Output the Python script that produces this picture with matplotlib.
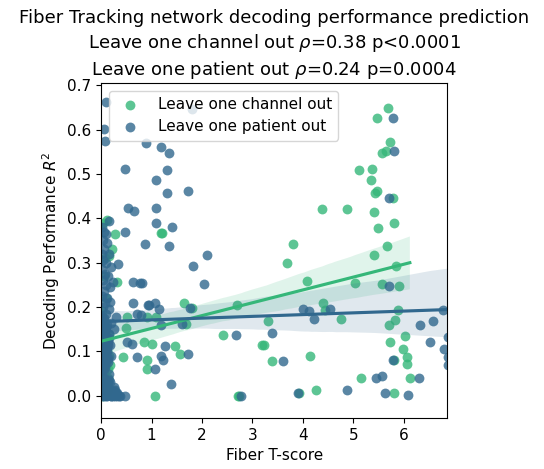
import matplotlib
matplotlib.use("Agg")
import matplotlib.pyplot as plt
import seaborn as sns
import numpy as np

# Leave one channel out (green)
ch_x = [0.11, 0.28, 1.2, 0.16, 0.31, 0.51, 0.49, 0.44, 0.16, 1.19, 1.64, 1.81, 0.91, 1.08, 1.69,
        2.69, 2.41, 0.84, 1.01, 1.47, 1.56, 0.90, 0.91, 1.06, 2.72, 3.18,
        5.11, 4.38, 4.87, 3.81, 3.68, 4.08, 5.04, 4.40, 4.43, 4.75, 3.30, 3.23, 3.39, 4.15, 4.25,
        5.16, 2.73, 3.93,
        5.69, 5.47, 5.72, 5.56, 5.64, 5.37, 5.35, 5.46, 5.42, 5.79, 5.41, 5.81, 5.48, 5.66,
        5.41, 5.84, 5.57, 5.90, 5.89, 5.82, 5.70, 6.02, 5.72, 5.99, 6.06, 6.06, 5.81, 6.12, 5.81,
        0.03, 0.08, 0.05, 0.10, 0.02, 0.15, 0.06, 0.10, 0.03, 0.12, 0.22,
        0.02, 0.05, 0.08, 0.12, 0.04, 0.09, 0.14, 0.01, 0.06, 0.11, 0.03, 0.07, 0.13, 0.18,
        0.04, 0.09, 0.14, 0.20]
ch_y = [0.396, 0.364, 0.367, 0.315, 0.257, 0.178, 0.152, 0.088, 0.090, 0.367, 0.208, 0.197, 0.178, 0.178, 0.162,
        0.204, 0.136, 0.121, 0.116, 0.112, 0.094, 0.081, 0.061, -0.001, 0.0, 0.115,
        0.51, 0.422, 0.422, 0.342, 0.30, 0.258, 0.255, 0.21, 0.193, 0.174, 0.169, 0.115, 0.079, 0.09, 0.013,
        0.041, 0.0, 0.006,
        0.648, 0.627, 0.571, 0.547, 0.552, 0.511, 0.487, 0.462, 0.456, 0.445, 0.415, 0.39, 0.379, 0.338,
        0.318, 0.293, 0.252, 0.248, 0.193, 0.171, 0.16, 0.135, 0.122, 0.106, 0.087, 0.072, 0.081, 0.04, 0.007,
        0.39, 0.31, 0.27, 0.22, 0.19, 0.14, 0.125, 0.07, 0.04, 0.01, 0.33,
        0.02, 0.05, 0.08, 0.03, 0.11, 0.13, 0.06, 0.09, 0.015, 0.10, 0.12, 0.145, 0.04, 0.07,
        0.0, 0.01, 0.02, 0.005]

# Leave one patient out (blue)
pt_x = [0.09, 1.81, 0.05, 0.08, 0.88, 1.18, 1.35, 0.47, 1.31, 1.09, 1.73, 1.31, 0.54, 0.66, 1.09,
        1.09, 1.41, 0.48, 0.16, 0.86, 1.35,
        2.09, 1.82, 2.03, 0.80, 0.94, 1.06, 1.14, 0.78, 1.19, 1.76, 1.61, 2.67, 1.27, 1.18, 1.22,
        1.73, 1.06, 1.39, 2.77,
        4.0, 4.13, 4.54, 4.21, 3.39, 3.61, 3.90, 4.87,
        5.78, 5.81, 5.70, 5.70, 6.77, 6.57, 6.33, 6.88, 6.51, 6.79, 6.88, 6.88, 5.78, 5.44, 5.57,
        6.30, 5.62, 6.09,
        0.33, 0.64, 0.76, 0.23, 0.18, 0.63, 0.93, 0.72, 0.30, 0.61, 0.51, 0.72, 0.48, 0.27, 0.31,
        0.02, 0.05, 0.10, 0.03, 0.12, 0.06, 0.01, 0.15, 0.04, 0.09, 0.20, 0.02, 0.07, 0.13, 0.03,
        0.10, 0.17, 0.05, 0.01, 0.12, 0.07, 0.03, 0.15, 0.09, 0.01, 0.05, 0.20, 0.12, 0.03, 0.08,
        0.25, 0.15, 0.02, 0.10, 0.06, 0.18, 0.01, 0.11, 0.05, 0.20, 0.03, 0.13, 0.08, 0.02, 0.16,
        0.06, 0.10, 0.02, 0.15, 0.05, 0.20, 0.09, 0.30, 0.35,
        0.01, 0.04, 0.07, 0.10, 0.13, 0.16, 0.02, 0.05, 0.08, 0.11, 0.14, 0.03, 0.06, 0.09, 0.12,
        0.01, 0.04, 0.07, 0.10, 0.22, 0.26, 0.18, 0.02, 0.05,
        0.01, 0.03, 0.05, 0.07, 0.09, 0.11, 0.13, 0.15, 0.17, 0.19, 0.21, 0.23, 0.25, 0.28, 0.32, 0.38,
        0.02, 0.04, 0.06, 0.08, 0.10, 0.12, 0.14, 0.16, 0.01, 0.03, 0.05, 0.07, 0.09, 0.11, 0.13, 0.04]
pt_y = [0.662, 0.646, 0.602, 0.574, 0.57, 0.561, 0.547, 0.511, 0.51, 0.487, 0.462, 0.456, 0.424, 0.416, 0.424,
        0.39, 0.38, 0.368, 0.394, 0.343, 0.338,
        0.318, 0.293, 0.252, 0.253, 0.204, 0.21, 0.195, 0.182, 0.159, 0.197, 0.162, 0.136, 0.111, 0.09, 0.081,
        0.094, 0.061, 0.026, -0.001,
        0.195, 0.192, 0.196, 0.172, 0.141, 0.079, 0.006, 0.013,
        0.627, 0.552, 0.445, 0.248, 0.193, 0.169, 0.16, 0.133, 0.122, 0.106, 0.088, 0.07, 0.081, 0.041, 0.045,
        0.04, 0.007, 0.001,
        0.298, 0.257, 0.253, 0.257, 0.212, 0.208, 0.205, 0.184, 0.178, 0.116, 0.122, 0.088, 0.0, 0.012, 0.0,
        0.38, 0.37, 0.365, 0.35, 0.345, 0.33, 0.32, 0.32, 0.305, 0.30, 0.29, 0.285, 0.275, 0.27, 0.26,
        0.25, 0.245, 0.235, 0.225, 0.22, 0.21, 0.20, 0.195, 0.185, 0.18, 0.17, 0.165, 0.16, 0.155, 0.15,
        0.15, 0.14, 0.135, 0.13, 0.12, 0.115, 0.11, 0.10, 0.095, 0.09, 0.08, 0.075, 0.065, 0.055, 0.05,
        0.04, 0.03, 0.02, 0.012, 0.005, 0.0, 0.0, 0.005, 0.0,
        0.01, 0.015, 0.02, 0.025, 0.03, 0.035, 0.045, 0.06, 0.07, 0.08, 0.085, 0.10, 0.105, 0.11, 0.125,
        0.13, 0.14, 0.145, 0.155, 0.01, 0.02, 0.03, 0.165, 0.175,
        0.0, 0.005, 0.0, 0.01, 0.005, 0.0, 0.015, 0.005, 0.01, 0.0, 0.005, 0.0, 0.01, 0.0, 0.005, 0.0,
        0.06, 0.07, 0.08, 0.09, 0.10, 0.11, 0.12, 0.13, 0.14, 0.15, 0.16, 0.145, 0.135, 0.125, 0.115, 0.105]

labels = ["Leave one channel out", "Leave one patient out"]
title = ("Fiber Tracking network decoding performance prediction\n"
         "Leave one channel out $\\rho$=0.38 p<0.0001\n"
         "Leave one patient out $\\rho$=0.24 p=0.0004")

pal = sns.color_palette("viridis", 2)
green = pal[1]
blue = pal[0]

fig = plt.figure(figsize=(5.44, 4.69), dpi=100)
ax = fig.add_axes([0.186, 0.109, 0.636, 0.714])

sns.regplot(x=np.array(ch_x), y=np.array(ch_y), ax=ax, color=green, label=labels[0],
            scatter_kws=dict(s=50, alpha=0.8, linewidths=0), seed=0)
sns.regplot(x=np.array(pt_x), y=np.array(pt_y), ax=ax, color=blue, label=labels[1],
            scatter_kws=dict(s=50, alpha=0.8, linewidths=0), seed=0)

ax.set_xlim(0, 6.86)
ax.set_ylim(-0.05, 0.705)
ax.set_xticks([0, 1, 2, 3, 4, 5, 6])
ax.set_yticks([0.0, 0.1, 0.2, 0.3, 0.4, 0.5, 0.6, 0.7])
ax.tick_params(labelsize=11)
ax.set_xlabel("Fiber T-score", fontsize=11)
ax.set_ylabel("Decoding Performance $R^2$", fontsize=11)
ax.set_title(title, fontsize=13, linespacing=1.3)
ax.legend(loc="upper left", fontsize=11)

fig.savefig("out.png", dpi=100)
